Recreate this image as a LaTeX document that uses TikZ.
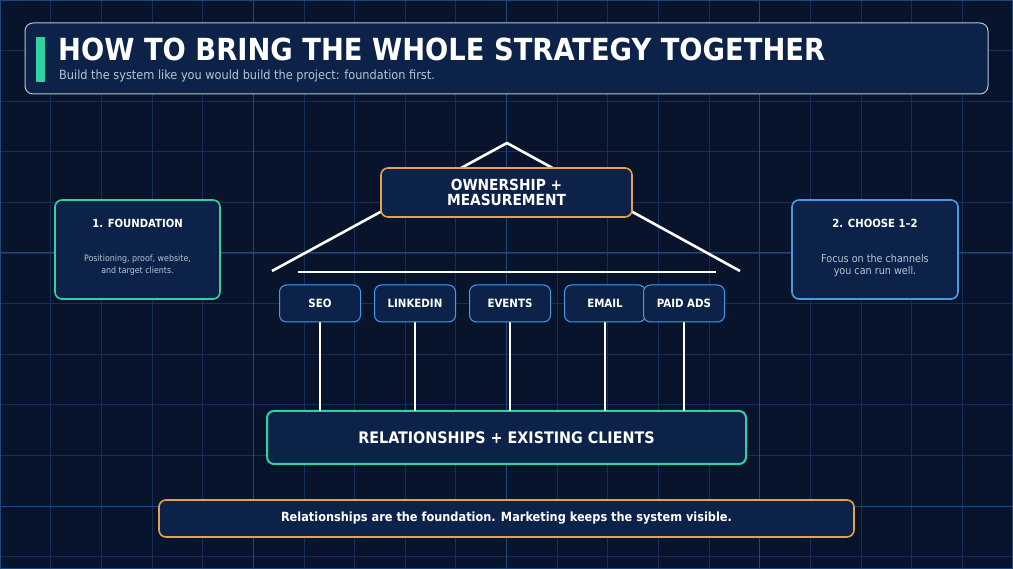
\documentclass[tikz,border=0pt]{standalone}
\usepackage{fontspec}
\setmainfont{DejaVu Sans Condensed}
\begin{document}
\begin{tikzpicture}[x=1pt,y=-1pt,
  box/.style={draw,rounded corners=7pt,fill=boxbg,line width=1.6pt,text=white,font=\bfseries,align=center,inner sep=0pt},
  pil/.style={box,draw=bluec,line width=1pt,minimum width=81pt,minimum height=37pt,font=\bfseries\fontsize{11.4}{13}\selectfont},
  wl/.style={draw=white,line width=2.6pt}]
\definecolor{bg}{HTML}{07142B}
\definecolor{boxbg}{HTML}{0C2248}
\definecolor{gridc}{HTML}{17305A}
\definecolor{gridm}{HTML}{24477A}
\definecolor{greenc}{HTML}{2ED3A0}
\definecolor{orangec}{HTML}{E8A04A}
\definecolor{bluec}{HTML}{4A9AE8}
\definecolor{subt}{HTML}{B8C4D6}
\fill[bg] (0,0) rectangle (1013,569);
\useasboundingbox (0,0) rectangle (1013,569);
\foreach \i in {1,...,19} {\draw[gridc,line width=0.8pt] (\i*50.65,0) -- (\i*50.65,569);}
\foreach \i in {1,...,11} {\draw[gridc,line width=0.8pt] (0,\i*50.6) -- (1013,\i*50.6);}
\foreach \i in {1,2,3} {\draw[gridm,line width=1pt] (\i*253.25,0) -- (\i*253.25,569);}
\foreach \i in {1,2} {\draw[gridm,line width=1pt] (0,\i*253) -- (1013,\i*253);}
\draw[gridm,line width=1.5pt] (0,0) rectangle (1013,569);
% header
\node[draw=subt,fill=boxbg,rounded corners=8pt,line width=1pt,minimum width=963pt,minimum height=71pt,inner sep=0pt] (hdr) at (506.5,58.5) {};
\fill[greenc] (36,37) rectangle (45,82);
\node[anchor=west,text=white,font=\bfseries\fontsize{30.4}{34}\selectfont,inner sep=0pt] (title) at (58,49) {HOW TO BRING THE WHOLE STRATEGY TOGETHER};
\node[anchor=west,text=subt,font=\fontsize{12.6}{14}\selectfont,inner sep=0pt] (sub) at (59,76) {Build the system like you would build the project: foundation first.};
% roof
\coordinate (rl) at (272,271); \coordinate (rt) at (507,143); \coordinate (rr) at (740,271);
\draw[wl,line join=miter] (rl) -- (rt) -- (rr);
\coordinate (bl) at (298,272); \coordinate (br) at (716,272);
\draw[white,line width=2.4pt] (bl) -- (br);
\node[box,draw=orangec,minimum width=251pt,minimum height=49pt,font=\bfseries\fontsize{15.3}{15}\selectfont] (own) at (506.5,192.5) {OWNERSHIP +\\MEASUREMENT};
% side boxes
\node[box,draw=greenc,minimum width=165pt,minimum height=99pt] (fnd) at (137.5,249.5) {};
\node[text=white,font=\bfseries\fontsize{11.2}{13}\selectfont] (fndt) at (137.5,223.5) {1. FOUNDATION};
\node[text=subt,font=\fontsize{8.8}{12}\selectfont,align=center] (fndd) at (137.5,265.5) {Positioning, proof, website,\\and target clients.};
\node[box,draw=bluec,minimum width=166pt,minimum height=99pt] (cho) at (875,249.5) {};
\node[text=white,font=\bfseries\fontsize{11.2}{13}\selectfont] (chot) at (875,223.5) {2. CHOOSE 1–2};
\node[text=subt,font=\fontsize{10.7}{12.5}\selectfont,align=center] (chod) at (875,265.5) {Focus on the channels\\you can run well.};
% base
\node[box,draw=greenc,line width=2pt,minimum width=479pt,minimum height=53pt,font=\bfseries\fontsize{15.9}{17}\selectfont] (base) at (506.5,437.5) {RELATIONSHIPS + EXISTING CLIENTS};
% pillars
\foreach \n/\t/\x in {p1/SEO/320,p2/LINKEDIN/415,p3/EVENTS/510,p4/EMAIL/605,p5/PAID ADS/684}{
  \draw[white,line width=2.4pt] (\x,322) -- (\x,411);
  \node[pil] (\n) at (\x,303.5) {\t};
}
% footer
\node[box,draw=orangec,minimum width=695pt,minimum height=37pt,font=\bfseries\fontsize{12.6}{14}\selectfont] (foot) at (506.5,518.5) {Relationships are the foundation. Marketing keeps the system visible.};
\end{tikzpicture}
\end{document}
